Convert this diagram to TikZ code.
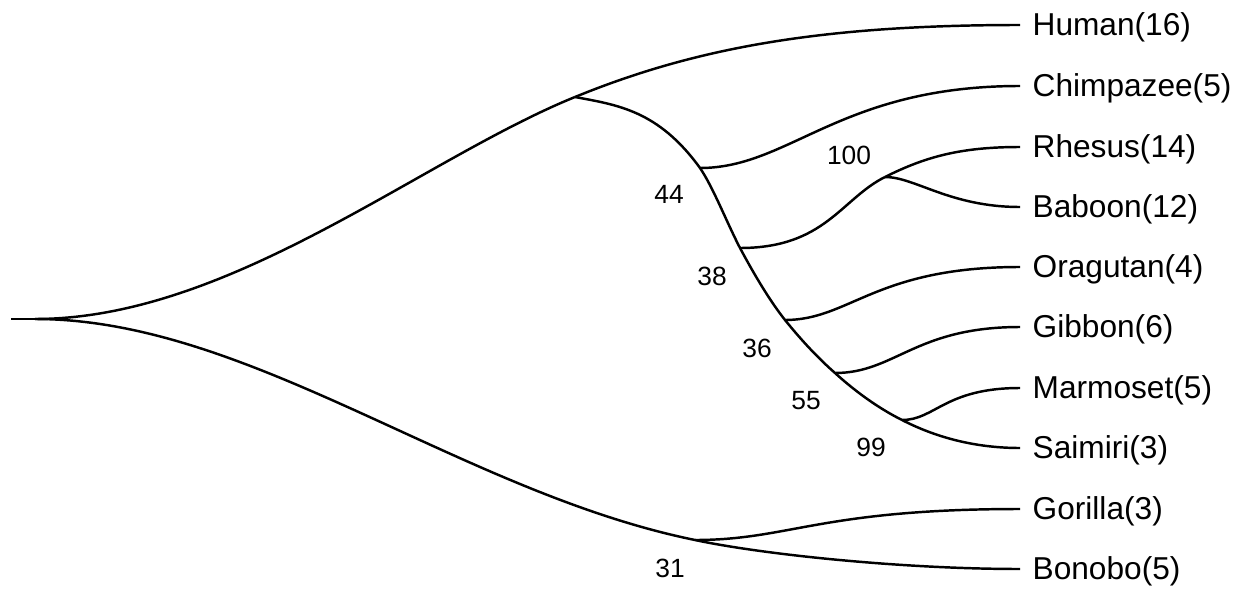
\documentclass[tikz,border=0pt]{standalone}
\usepackage{fontspec}
\setmainfont{Liberation Sans}
\usetikzlibrary{positioning}

\begin{document}
\begin{tikzpicture}[
    x=0.01cm, y=-0.01cm,
    branch/.style={draw=black, line width=0.7pt},
    taxon/.style={anchor=west, inner xsep=3.4pt, inner ysep=0pt, text height=7.5pt, text depth=1.3pt, font=\fontsize{9}{11}\selectfont},
    boot/.style={inner sep=0pt, font=\fontsize{7.5}{9}\selectfont}
]
\useasboundingbox (0,0) rectangle (1240,588);

\node[taxon] (human) at (1020,25) {Human(16)};
\node[taxon] (chimp) at (1020,86) {Chimpazee(5)};
\node[taxon] (rhesus) at (1020,147) {Rhesus(14)};
\node[taxon] (baboon) at (1020,207) {Baboon(12)};
\node[taxon] (orang) at (1020,267) {Oragutan(4)};
\node[taxon] (gibbon) at (1020,327) {Gibbon(6)};
\node[taxon] (marmoset) at (1020,388) {Marmoset(5)};
\node[taxon] (saimiri) at (1020,448) {Saimiri(3)};
\node[taxon] (gorilla) at (1020,509) {Gorilla(3)};
\node[taxon] (bonobo) at (1020,569) {Bonobo(5)};

\coordinate (root) at (11,319);
\coordinate (fork) at (35,319);
\coordinate (nA) at (575,97);
\coordinate (nB) at (700,168);
\coordinate (nC) at (740,248);
\coordinate (nD) at (785,320);
\coordinate (nE) at (835,373);
\coordinate (nF) at (902,420);
\coordinate (nG) at (695,540);
\coordinate (nRB) at (885,177);

\draw[branch] (root) -- (fork);
\draw[branch] (fork) .. controls +(195,0) and +(-155,63) .. (nA);
\draw[branch] (fork) .. controls +(215,0) and +(-235,-48) .. (nG);
\draw[branch] (nA) .. controls +(120,-49) and +(-200,0) .. (human.west);
\draw[branch] (nA) .. controls +(42,8) and +(-42,-58) .. (nB)
    .. controls +(13,19) and +(-13,-25) .. (nC)
    .. controls +(15,28) and +(-15,-19) .. (nD)
    .. controls +(17,21) and +(-17,-15) .. (nE)
    .. controls +(22,20) and +(-22,-11) .. (nF)
    .. controls +(39,20) and +(-39,0) .. (saimiri.west);
\draw[branch] (nB) .. controls +(90,0) and +(-180,0) .. (chimp.west);
\draw[branch] (nC) .. controls +(85,0) and +(-44,22) .. (nRB);
\draw[branch] (nRB) .. controls +(40,-20) and +(-60,0) .. (rhesus.west);
\draw[branch] (nRB) .. controls +(30,0) and +(-70,0) .. (baboon.west);
\draw[branch] (nD) .. controls +(65,0) and +(-145,0) .. (orang.west);
\draw[branch] (nE) .. controls +(60,0) and +(-105,0) .. (gibbon.west);
\draw[branch] (nF) .. controls +(33,0) and +(-75,0) .. (marmoset.west);
\draw[branch] (nG) .. controls +(95,0) and +(-200,0) .. (gorilla.west);
\draw[branch] (nG) .. controls +(65,14) and +(-120,0) .. (bonobo.west);

\node[boot] (b100) at (849,155) {100};
\node[boot] (b44) at (669,194) {44};
\node[boot] (b38) at (712,276) {38};
\node[boot] (b36) at (757,348) {36};
\node[boot] (b55) at (806,401) {55};
\node[boot] (b99) at (871,447) {99};
\node[boot] (b31) at (670,568) {31};
\end{tikzpicture}
\end{document}
